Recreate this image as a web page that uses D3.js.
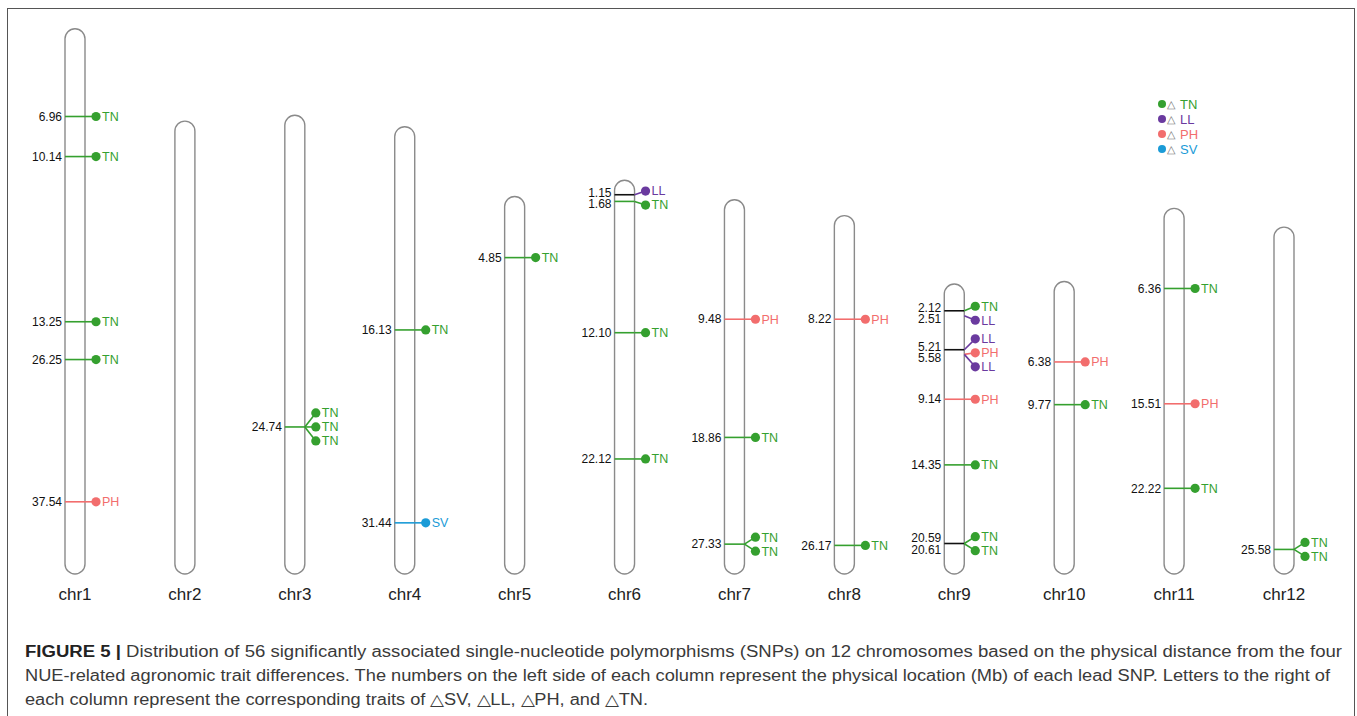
<!DOCTYPE html>
<html>
<head>
<meta charset="utf-8">
<script src="https://cdn.jsdelivr.net/npm/d3@7"></script>
<style>
  body { margin: 0; background: #fff; }
  svg { display: block; font-family: "Liberation Sans", Arial, sans-serif; }
</style>
</head>
<body>
<svg id="chart" width="1357" height="716"></svg>
<script>
// rice chromosomes (Mb)
const chromosomes = ["chr1", "chr2", "chr3", "chr4", "chr5", "chr6", "chr7", "chr8", "chr9", "chr10", "chr11", "chr12"];
const chromLengths = [43.27, 35.94, 36.41, 35.5, 29.96, 31.25, 29.7, 28.44, 23.01, 23.21, 29.02, 27.53];

// lead SNPs: chromosome, position (Mb), printed label, trait
const snpChr = ["chr1", "chr1", "chr1", "chr1", "chr1",
  "chr3", "chr3", "chr3",
  "chr4", "chr4",
  "chr5",
  "chr6", "chr6", "chr6", "chr6",
  "chr7", "chr7", "chr7", "chr7",
  "chr8", "chr8",
  "chr9", "chr9", "chr9", "chr9", "chr9", "chr9", "chr9", "chr9", "chr9",
  "chr10", "chr10",
  "chr11", "chr11", "chr11",
  "chr12", "chr12"];
const snpPos = [6.96, 10.14, 23.25, 26.25, 37.54,
  24.74, 24.74, 24.74,
  16.13, 31.44,
  4.85,
  1.15, 1.68, 12.10, 22.12,
  9.48, 18.86, 27.33, 27.33,
  8.22, 26.17,
  2.12, 2.51, 5.21, 5.58, 5.58, 9.14, 14.35, 20.59, 20.61,
  6.38, 9.77,
  6.36, 15.51, 22.22,
  25.58, 25.58];
const snpLabel = ["6.96", "10.14", "13.25", "26.25", "37.54",
  "24.74", "24.74", "24.74",
  "16.13", "31.44",
  "4.85",
  "1.15", "1.68", "12.10", "22.12",
  "9.48", "18.86", "27.33", "27.33",
  "8.22", "26.17",
  "2.12", "2.51", "5.21", "5.58", "5.58", "9.14", "14.35", "20.59", "20.61",
  "6.38", "9.77",
  "6.36", "15.51", "22.22",
  "25.58", "25.58"];
const snpTrait = ["TN", "TN", "TN", "TN", "PH",
  "TN", "TN", "TN",
  "TN", "SV",
  "TN",
  "LL", "TN", "TN", "TN",
  "PH", "TN", "TN", "TN",
  "PH", "TN",
  "TN", "LL", "LL", "PH", "LL", "PH", "TN", "TN", "TN",
  "PH", "TN",
  "TN", "PH", "TN",
  "TN", "TN"];

const traits = ["TN", "LL", "PH", "SV"];
const traitColors = ["#35a02f", "#6a3a9f", "#f26d6d", "#1b9bd7"];

const captionBold = "FIGURE 5 |";
const captionLines = [
  " Distribution of 56 significantly associated single-nucleotide polymorphisms (SNPs) on 12 chromosomes based on the physical distance from the four",
  "NUE-related agronomic trait differences. The numbers on the left side of each column represent the physical location (Mb) of each lead SNP. Letters to the right of",
  "each column represent the corresponding traits of \u25B3SV, \u25B3LL, \u25B3PH, and \u25B3TN."
];
const captionWidths = [1317, 1305, 623];

const svg = d3.select("#chart");
const color = d3.scaleOrdinal().domain(traits).range(traitColors);

const chromBottom = 574;
const pxPerMb = 12.6;
const maxLen = d3.max(chromLengths);
const chromW = 20;

const x = d3.scalePoint().domain(chromosomes).range([75, 1284]);
// distance from the chromosome end -> y (chromosomes are bottom aligned)
const y = d3.scaleLinear().domain([maxLen, 0]).range([chromBottom - maxLen * pxPerMb, chromBottom]);
const lenOf = c => chromLengths[chromosomes.indexOf(c)];
const yPos = (c, p) => y(lenOf(c) - p);

// outer frame
svg.append("rect")
  .attr("x", 7.5).attr("y", 8.5)
  .attr("width", 1347).attr("height", 720)
  .attr("fill", "none").attr("stroke", "#555").attr("stroke-width", 1);

// spread overlapping items so they keep a minimum gap
function spread(items, gap) {
  items.sort((a, b) => a.y0 - b.y0);
  const groups = items.map(d => ({ members: [d] }));
  let moved = true;
  while (moved) {
    moved = false;
    groups.forEach(g => {
      const mean = d3.mean(g.members, m => m.y0);
      g.start = mean - (g.members.length - 1) * gap / 2;
    });
    for (let i = 0; i < groups.length - 1; i++) {
      const a = groups[i], b = groups[i + 1];
      if (a.start + a.members.length * gap > b.start) {
        a.members = a.members.concat(b.members);
        groups.splice(i + 1, 1);
        moved = true;
        break;
      }
    }
  }
  groups.forEach(g => {
    g.members.forEach((m, i) => { m.y = g.start + i * gap; });
  });
  return items;
}

const snps = snpChr.map((c, i) => ({
  chr: c, pos: snpPos[i], label: snpLabel[i], trait: snpTrait[i]
}));

chromosomes.forEach(c => {
  const cx = x(c);
  const g = svg.append("g");
  const top = yPos(c, 0);

  g.append("rect")
    .attr("x", cx - chromW / 2).attr("y", top)
    .attr("width", chromW).attr("height", chromBottom - top)
    .attr("rx", 10).attr("ry", 10)
    .attr("fill", "#fff").attr("stroke", "#8a8a8a").attr("stroke-width", 1.4);

  g.append("text")
    .attr("x", cx).attr("y", 600)
    .attr("text-anchor", "middle")
    .attr("font-size", 17).attr("fill", "#222")
    .text(c);

  const rows = snps.filter(d => d.chr === c);
  if (!rows.length) return;

  // unique positions -> lines + number labels
  const positions = [];
  rows.forEach(d => {
    if (!positions.find(p => p.label === d.label)) {
      positions.push({ label: d.label, pos: d.pos, trait: d.trait, y0: yPos(c, d.pos) });
    }
  });
  positions.sort((a, b) => a.y0 - b.y0);
  positions.forEach((p, i) => {
    const prev = positions[i - 1], next = positions[i + 1];
    const closeNext = next && next.y0 - p.y0 < 8;
    const closePrev = prev && p.y0 - prev.y0 < 8;
    p.lineColor = (closeNext && !closePrev) ? "#111" : color(p.trait);
    p.hidden = closePrev && p.y0 - prev.y0 < 5;
  });
  spread(positions.map(p => p), 11.5);

  const dots = rows.map(d => ({ d: d, y0: yPos(c, d.pos) }));
  spread(dots, 14);

  const left = cx - chromW / 2, right = cx + chromW / 2, dotX = cx + 21;

  positions.forEach(p => {
    if (!p.hidden) {
      g.append("line")
        .attr("x1", left).attr("x2", right)
        .attr("y1", p.y0).attr("y2", p.y0)
        .attr("stroke", p.lineColor).attr("stroke-width", 1.6);
    }
    g.append("text")
      .attr("x", left - 3).attr("y", p.y)
      .attr("dy", "0.35em")
      .attr("text-anchor", "end")
      .attr("font-size", 12).attr("fill", "#111")
      .text(p.label);
  });

  dots.forEach(o => {
    g.append("line")
      .attr("x1", right).attr("y1", o.y0)
      .attr("x2", dotX).attr("y2", o.y)
      .attr("stroke", color(o.d.trait)).attr("stroke-width", 1.6);
  });
  dots.forEach(o => {
    g.append("circle")
      .attr("cx", dotX).attr("cy", o.y).attr("r", 4.6)
      .attr("fill", color(o.d.trait));
    g.append("text")
      .attr("x", dotX + 6).attr("y", o.y)
      .attr("dy", "0.35em")
      .attr("font-size", 12.5).attr("fill", color(o.d.trait))
      .text(o.d.trait);
  });
});

// legend
const legend = svg.append("g").attr("transform", "translate(1162,104)");
traits.forEach((t, i) => {
  const row = legend.append("g").attr("transform", `translate(0,${i * 15})`);
  row.append("circle").attr("r", 4).attr("fill", color(t));
  row.append("text").attr("x", 5).attr("dy", "0.35em")
    .attr("font-size", 11).attr("fill", "#777").text("\u25B3");
  row.append("text").attr("x", 18).attr("dy", "0.35em")
    .attr("font-size", 13).attr("fill", color(t)).text(t);
});

// caption
const cap = svg.append("g").attr("font-size", 16).attr("fill", "#3a3a3a");
captionLines.forEach((line, i) => {
  const t = cap.append("text").attr("x", 25).attr("y", 657 + i * 24)
    .attr("textLength", captionWidths[i]).attr("lengthAdjust", "spacingAndGlyphs");
  if (i === 0) {
    t.append("tspan").attr("font-weight", "bold").attr("fill", "#222").text(captionBold);
  }
  t.append("tspan").text(line);
});
</script>
</body>
</html>
